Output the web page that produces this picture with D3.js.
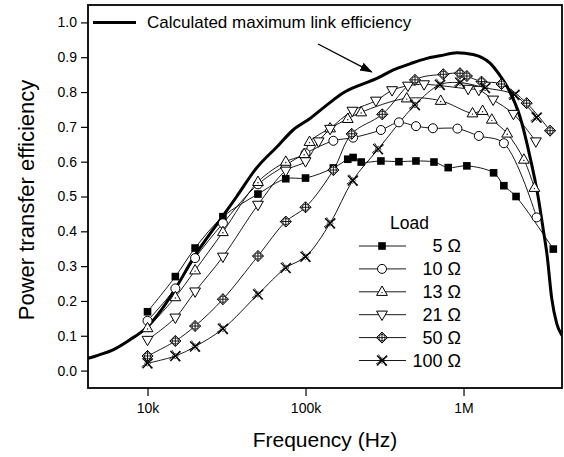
<!DOCTYPE html>
<html><head><meta charset="utf-8">
<script src="https://cdn.jsdelivr.net/npm/d3@7"></script>
<style>
body{margin:0;background:#fff}
svg{display:block}
text{font-family:"Liberation Sans",Arial,Helvetica,sans-serif;fill:#000}
</style>
</head><body>
<svg id="chart" width="564" height="457"></svg>
<script>
// ---- data ----
const seriesNames = ["5 Ω","10 Ω","13 Ω","21 Ω","50 Ω","100 Ω"];
const seriesSymbols = ["square","circle","triUp","triDown","diamondPlus","cross"];

const freq5  = [10e3,15e3,20e3,30e3,50e3,75e3,100e3,150e3,185e3,200e3,225e3,300e3,390e3,500e3,650e3,800e3,1.05e6,1.55e6,1.8e6,2.15e6,3.7e6];
const eff5   = [0.169,0.270,0.352,0.442,0.507,0.551,0.553,0.582,0.607,0.612,0.599,0.602,0.600,0.602,0.599,0.583,0.588,0.568,0.531,0.500,0.349];

const freq10 = [10e3,15e3,20e3,30e3,50e3,75e3,100e3,150e3,200e3,300e3,390e3,500e3,640e3,915e3,1.25e6,1.8e6,2.9e6];
const eff10  = [0.143,0.236,0.323,0.423,0.535,0.590,0.624,0.660,0.669,0.691,0.713,0.702,0.696,0.695,0.674,0.653,0.440];

const freq13 = [10e3,15e3,20e3,30e3,50e3,75e3,98e3,106e3,143e3,185e3,225e3,437e3,717e3,1.14e6,1.32e6,1.51e6,1.89e6,2.41e6,2.81e6];
const eff13  = [0.122,0.211,0.288,0.398,0.542,0.600,0.622,0.657,0.696,0.723,0.742,0.782,0.775,0.739,0.746,0.721,0.681,0.606,0.525];

const freq21 = [10e3,15e3,20e3,30e3,50e3,75e3,100e3,121e3,143e3,198e3,279e3,353e3,445e3,563e3,1.07e6,1.25e6,1.54e6,2.07e6,2.87e6];
const eff21  = [0.088,0.152,0.227,0.327,0.476,0.574,0.601,0.658,0.694,0.746,0.775,0.805,0.818,0.822,0.809,0.806,0.778,0.737,0.658];

const freq50 = [10e3,15e3,20e3,30e3,50e3,75e3,100e3,150e3,196e3,306e3,493e3,745e3,950e3,1.05e6,1.3e6,1.74e6,2.51e6,3.53e6];
const eff50  = [0.042,0.085,0.128,0.205,0.329,0.428,0.469,0.576,0.680,0.736,0.835,0.851,0.854,0.846,0.830,0.823,0.768,0.689];

const freq100 = [10e3,15e3,20e3,30e3,50e3,75e3,100e3,143e3,199e3,288e3,493e3,709e3,950e3,1.37e6,2.1e6,2.9e6];
const eff100  = [0.021,0.042,0.069,0.120,0.219,0.295,0.327,0.423,0.546,0.636,0.763,0.821,0.827,0.812,0.792,0.727];

const maxFreq = [4.2e3,5.0e3,6.0e3,7.7e3,10e3,12.5e3,15e3,19.5e3,28.8e3,36.7e3,48.6e3,67e3,83.4e3,106.8e3,136.8e3,172.6e3,221e3,283e3,357e3,458e3,579e3,710e3,910e3,1.148e6,1.472e6,1.703e6,1.885e6,2.277e6,2.634e6,2.963e6,3.2e6,3.376e6,3.614e6,3.89e6,4.2e6];
const maxEff  = [0.035,0.046,0.059,0.088,0.126,0.180,0.235,0.323,0.433,0.500,0.580,0.646,0.691,0.724,0.763,0.797,0.820,0.839,0.863,0.881,0.896,0.904,0.913,0.908,0.883,0.847,0.816,0.729,0.614,0.500,0.403,0.333,0.208,0.135,0.101];

const xMajorTicks = [1e4,1e5,1e6];
const xTickLabels = ["10k","100k","1M"];
const yMajorTicks = [0,0.1,0.2,0.3,0.4,0.5,0.6,0.7,0.8,0.9,1.0];

const freqs = [freq5,freq10,freq13,freq21,freq50,freq100];
const effs  = [eff5,eff10,eff13,eff21,eff50,eff100];

// ---- layout ----
const svg = d3.select("#chart");
const L = 88, R = 562, T = 5, B = 388;
const x = d3.scaleLog().domain([4200, 4.2e6]).range([L, R]);
const y = d3.scaleLinear().domain([-0.05, 1.05]).range([B, T]);

svg.append("defs").append("clipPath").attr("id","clip")
  .append("rect").attr("x",L).attr("y",T).attr("width",R-L).attr("height",B-T);

// axes
const xMinor = [];
for (let d = 1e3; d <= 1e6; d *= 10) for (let k = 2; k <= 9; k++) { const v = d*k; if (v >= 4200 && v <= 4.2e6) xMinor.push(v); }
const xAx = svg.append("g").attr("transform",`translate(0,${B})`);
xAx.call(d3.axisBottom(x).tickValues(xMinor).tickSize(5).tickFormat(""));
xAx.call(d3.axisBottom(x).tickValues(xMajorTicks).tickSize(8).tickPadding(7).tickFormat((d,i)=>xTickLabels[i]));
xAx.selectAll("path.domain").remove();
xAx.selectAll("text").attr("font-size",14).attr("font-family","Liberation Sans, Arial, sans-serif");
xAx.selectAll("line").attr("stroke","#000").attr("stroke-width",1.2);

const yMinor = d3.range(0.05,1.0,0.1);
const yAx = svg.append("g").attr("transform",`translate(${L},0)`);
yAx.call(d3.axisLeft(y).tickValues(yMinor).tickSize(4).tickFormat(""));
yAx.call(d3.axisLeft(y).tickValues(yMajorTicks).tickSize(7).tickPadding(4).tickFormat(d3.format(".1f")));
yAx.selectAll("path.domain").remove();
yAx.selectAll("text").attr("font-size",14).attr("font-family","Liberation Sans, Arial, sans-serif");
yAx.selectAll("line").attr("stroke","#000").attr("stroke-width",1.2);

// frame
svg.append("rect").attr("x",L).attr("y",T).attr("width",R-L).attr("height",B-T)
  .attr("fill","none").attr("stroke","#000").attr("stroke-width",1.8);

// max curve
const plot = svg.append("g").attr("clip-path","url(#clip)");
const maxData = maxFreq.map((f,i)=>[f,maxEff[i]]);
plot.append("path").datum(maxData)
  .attr("d", d3.line().x(d=>x(d[0])).y(d=>y(d[1])).curve(d3.curveMonotoneX))
  .attr("fill","none").attr("stroke","#000").attr("stroke-width",3);

// series lines
const sLine = d3.line().x(d=>x(d[0])).y(d=>y(d[1])).curve(d3.curveCatmullRom.alpha(0.5));
freqs.forEach((fr,si)=>{
  const data = fr.map((f,i)=>[f,effs[si][i]]);
  plot.append("path").datum(data).attr("d",sLine)
    .attr("fill","none").attr("stroke","#000").attr("stroke-width",0.9);
});

// marker drawing
function drawMarker(g, sym, cx, cy){
  const m = g.append("g").attr("transform",`translate(${cx},${cy})`);
  if (sym==="square"){
    m.append("rect").attr("x",-3.8).attr("y",-3.8).attr("width",7.6).attr("height",7.6).attr("fill","#000");
  } else if (sym==="circle"){
    m.append("circle").attr("r",4.5).attr("fill","#fff").attr("stroke","#000").attr("stroke-width",1);
  } else if (sym==="triUp"){
    m.append("path").attr("d","M0,-5.8L5.4,3.6L-5.4,3.6Z").attr("fill","#fff").attr("stroke","#000").attr("stroke-width",1);
    m.append("circle").attr("r",0.7).attr("cy",0.8).attr("fill","#000");
  } else if (sym==="triDown"){
    m.append("path").attr("d","M0,5.8L5.4,-3.6L-5.4,-3.6Z").attr("fill","#fff").attr("stroke","#000").attr("stroke-width",1);
  } else if (sym==="diamondPlus"){
    m.append("path").attr("d","M0,-5.5L5.5,0L0,5.5L-5.5,0Z").attr("fill","#fff").attr("stroke","#000").attr("stroke-width",1);
    m.append("circle").attr("r",3.2).attr("fill","none").attr("stroke","#000").attr("stroke-width",0.8);
    m.append("path").attr("d","M0,-5.5V5.5M-5.5,0H5.5").attr("stroke","#000").attr("stroke-width",0.9);
  } else if (sym==="cross"){
    m.append("path").attr("d","M-5,-5L5,5M-5,5L5,-5").attr("stroke","#000").attr("stroke-width",1.3);
    m.append("path").attr("d","M-3.5,-6L4,5.5M-6,3.5L5.5,-4").attr("stroke","#000").attr("stroke-width",0.8);
    m.append("path").attr("d","M0,-3L3,0L0,3L-3,0Z").attr("fill","none").attr("stroke","#000").attr("stroke-width",0.7);
  }
}

const mk = svg.append("g");
freqs.forEach((fr,si)=>{
  fr.forEach((f,i)=> drawMarker(mk, seriesSymbols[si], x(f), y(effs[si][i])));
});

// legend (top-left, calculated curve)
const legY = y(1.0);
svg.append("line").attr("x1",93).attr("x2",136).attr("y1",legY).attr("y2",legY)
  .attr("stroke","#000").attr("stroke-width",3);
svg.append("text").attr("x",147).attr("y",legY+6).attr("font-size",17).text("Calculated maximum link efficiency");

// arrow annotation
const defs = svg.select("defs");
defs.append("marker").attr("id","arr").attr("viewBox","0 0 10 10").attr("refX",9).attr("refY",5)
  .attr("markerWidth",9).attr("markerHeight",9).attr("orient","auto")
  .append("path").attr("d","M0,1.5L10,5L0,8.5Z").attr("fill","#000");
const arrowFrom = [120e3, 0.938], arrowTo = [262e3, 0.858];
svg.append("line").attr("x1",x(arrowFrom[0])).attr("y1",y(arrowFrom[1]))
  .attr("x2",x(arrowTo[0])).attr("y2",y(arrowTo[1]))
  .attr("stroke","#000").attr("stroke-width",1.4).attr("marker-end","url(#arr)");

// load legend
const lg = svg.append("g");
lg.append("text").attr("x",390).attr("y",229).attr("font-size",17.5).text("Load");
seriesNames.forEach((n,i)=>{
  const yy = 246 + i*22.9;
  lg.append("line").attr("x1",359).attr("x2",406).attr("y1",yy).attr("y2",yy).attr("stroke","#000").attr("stroke-width",0.9);
  drawMarker(lg, seriesSymbols[i], 382, yy);
  lg.append("text").attr("x",461).attr("y",yy+6).attr("text-anchor","end").attr("font-size",18).text(n);
});

// axis titles
svg.append("text").attr("x",325).attr("y",447).attr("text-anchor","middle").attr("font-size",21).text("Frequency (Hz)");
svg.append("text").attr("transform","translate(34,200) rotate(-90)").attr("text-anchor","middle").attr("font-size",22).text("Power transfer efficiency");
</script>
</body></html>
